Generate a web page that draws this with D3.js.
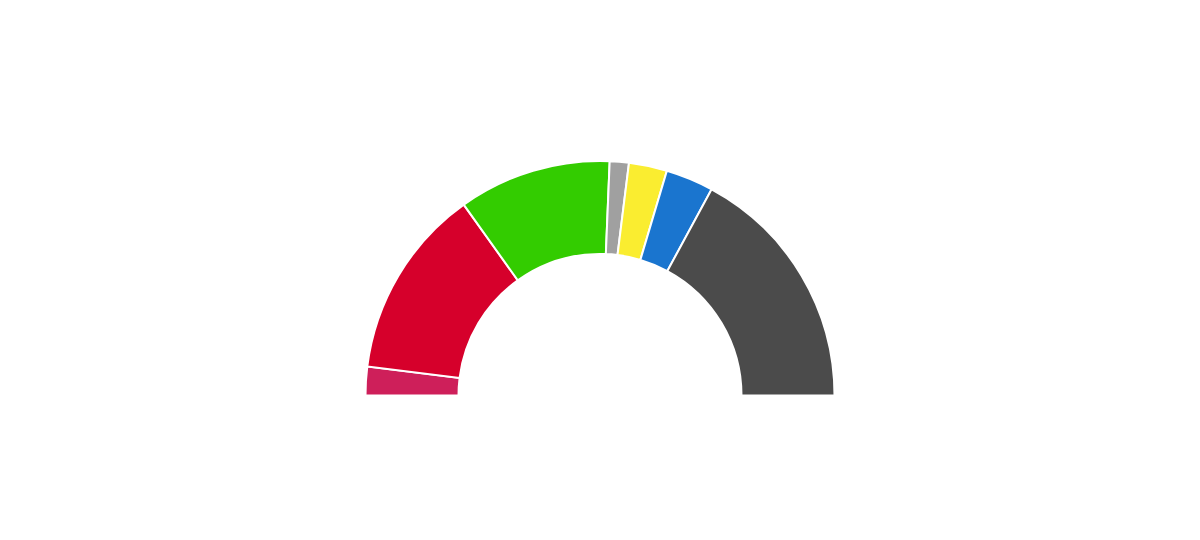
<!DOCTYPE html>
<html>
<head>
<meta charset="utf-8">
<script src="https://cdn.jsdelivr.net/npm/d3@7"></script>
<style>
  body { margin: 0; background: #fff; }
</style>
</head>
<body>
<svg width="1200" height="540"></svg>
<script>
// seats per group, left to right
const parties = ['A', 'B', 'C', 'D', 'E', 'F', 'G'];
const seats = [3, 20, 16, 2, 4, 5, 26];
const colors = ['#CE1F5A', '#D6002B', '#33CC00', '#A0A0A0', '#FAED30', '#1A75CF', '#4B4B4B'];

const svg = d3.select('svg');
const cx = 600, cy = 395.5;
const outer = 234.5, inner = 141.5;

const pie = d3.pie()
	.sort(null)
	.value(d => d.v)
	.startAngle(-Math.PI / 2)
	.endAngle(Math.PI / 2);

const arc = d3.arc()
	.innerRadius(inner)
	.outerRadius(outer);

const rows = parties.map((p, i) => ({ name: p, v: seats[i], fill: colors[i] }));

svg.append('g')
	.attr('transform', `translate(${cx},${cy})`)
	.selectAll('path')
	.data(pie(rows))
	.enter()
	.append('path')
	.attr('d', arc)
	.attr('fill', d => d.data.fill)
	.attr('stroke', '#fff')
	.attr('stroke-width', 2);
</script>
</body>
</html>
